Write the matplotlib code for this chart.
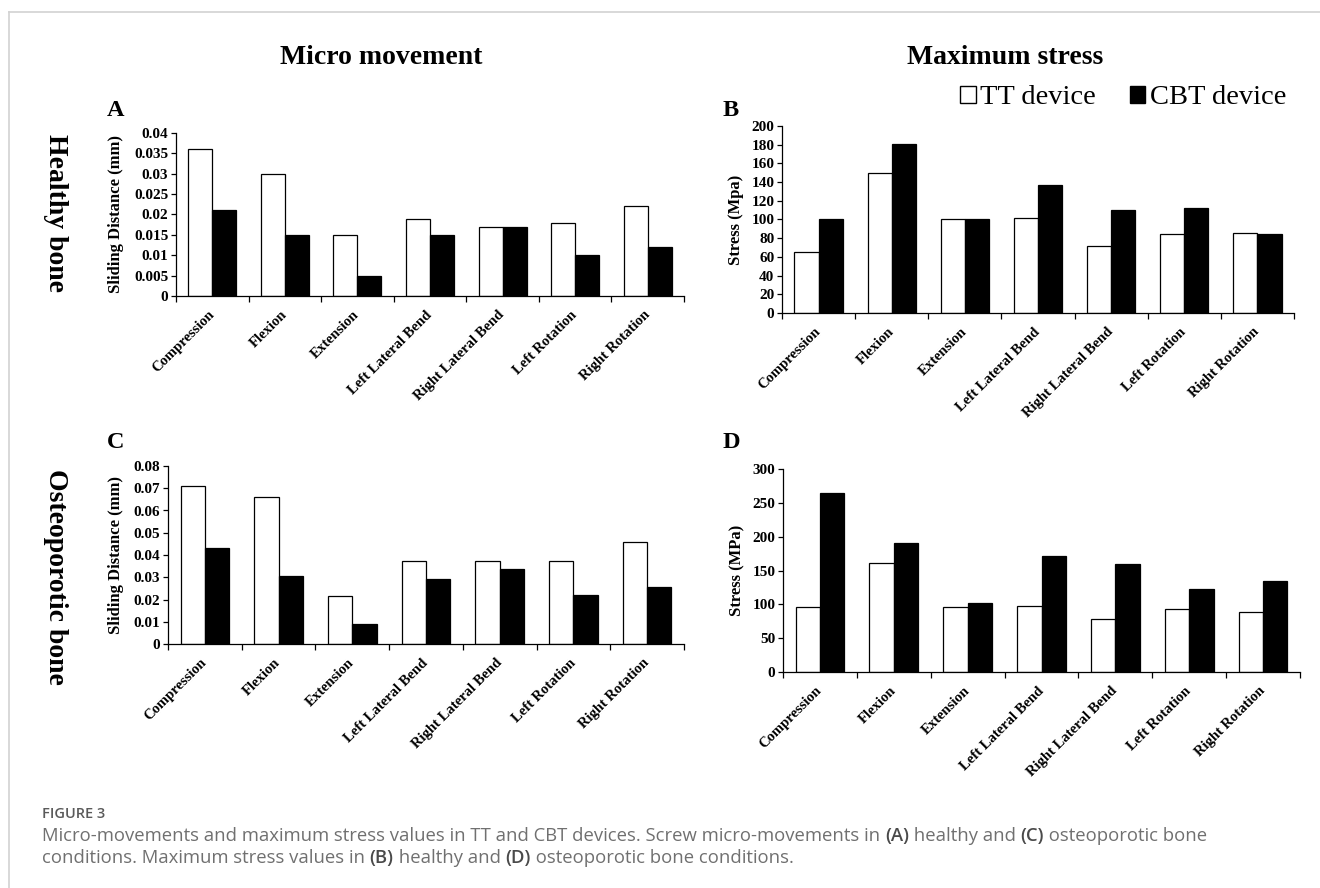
import matplotlib
matplotlib.use("Agg")
import matplotlib.pyplot as plt
from matplotlib.patches import Patch
from matplotlib.lines import Line2D
import numpy as np

# ---------------- data ----------------
categories = ["Compression", "Flexion", "Extension", "Left Lateral Bend",
              "Right Lateral Bend", "Left Rotation", "Right Rotation"]

a_tt  = [0.036, 0.030, 0.015, 0.019, 0.017, 0.018, 0.022]
a_cbt = [0.021, 0.015, 0.005, 0.015, 0.017, 0.010, 0.012]

b_tt  = [65, 150, 100, 102, 72, 84, 86]
b_cbt = [100, 181, 101, 137, 110, 112, 85]

c_tt  = [0.0712, 0.0660, 0.0217, 0.0375, 0.0374, 0.0375, 0.0459]
c_cbt = [0.0430, 0.0306, 0.0091, 0.0294, 0.0335, 0.0221, 0.0254]

d_tt  = [96, 161, 96, 98, 79, 93, 89]
d_cbt = [264, 191, 102, 172, 159, 122, 134]

a_ticks = [0, 0.005, 0.01, 0.015, 0.02, 0.025, 0.03, 0.035, 0.04]
b_ticks = [0, 20, 40, 60, 80, 100, 120, 140, 160, 180, 200]
c_ticks = [0, 0.01, 0.02, 0.03, 0.04, 0.05, 0.06, 0.07, 0.08]
d_ticks = [0, 50, 100, 150, 200, 250, 300]

series_names = ["TT device", "CBT device"]

# ---------------- figure ----------------
W, H = 1320, 888
fig = plt.figure(figsize=(W / 100, H / 100), dpi=100)
SERIF = "Liberation Serif"


def fx(px):
    return px / W


def fy(py):
    return 1 - py / H


def make_axes(l, t, r, b):
    return fig.add_axes([fx(l), fy(b), (r - l) / W, (b - t) / H])


def draw_panel(ax, tt, cbt, ticks, ylabel, ylabel_x):
    x = np.arange(len(categories))
    w = 0.33
    ax.bar(x - w / 2, tt, w, color="white", edgecolor="black", linewidth=0.9)
    ax.bar(x + w / 2, cbt, w, color="black", edgecolor="black", linewidth=0.9)
    ax.set_xlim(-0.5, len(categories) - 0.5)
    ax.set_ylim(ticks[0], ticks[-1])
    ax.set_yticks(ticks)
    ax.set_yticklabels(["%g" % t for t in ticks], fontfamily=SERIF,
                       fontweight="bold", fontsize=11)
    ax.set_xticks(np.arange(len(categories) + 1) - 0.5)
    ax.set_xticklabels([])
    ax.set_xticks(x, minor=True)
    ax.set_xticklabels(categories, minor=True, rotation=45, ha="right",
                       va="center", rotation_mode="anchor",
                       fontfamily=SERIF, fontweight="bold", fontsize=10.5)
    ax.tick_params(axis="x", which="major", direction="out", length=4.5,
                   width=0.9)
    ax.tick_params(axis="x", which="minor", length=0, pad=12)
    ax.tick_params(axis="y", direction="out", length=3.5, width=0.9, pad=2)
    for s in ["top", "right"]:
        ax.spines[s].set_visible(False)
    for s in ["left", "bottom"]:
        ax.spines[s].set_linewidth(0.9)
    pos = ax.get_position()
    fig.text(fx(ylabel_x), pos.y0 + pos.height / 2, ylabel, rotation=90,
             ha="center", va="center", fontfamily=SERIF, fontweight="bold",
             fontsize=12)


axA = make_axes(176, 133, 684, 296)
axB = make_axes(782, 126, 1294, 313)
axC = make_axes(168, 466, 684, 644)
axD = make_axes(783, 469, 1300, 672)

draw_panel(axA, a_tt, a_cbt, a_ticks, "Sliding Distance (mm)", 116)
draw_panel(axB, b_tt, b_cbt, b_ticks, "Stress (Mpa)", 736)
draw_panel(axC, c_tt, c_cbt, c_ticks, "Sliding Distance (mm)", 116)
draw_panel(axD, d_tt, d_cbt, d_ticks, "Stress (MPa)", 737)

# column titles
fig.text(fx(381), fy(58), "Micro movement", ha="center", va="center",
         fontfamily=SERIF, fontweight="bold", fontsize=20)
fig.text(fx(1005), fy(58), "Maximum stress", ha="center", va="center",
         fontfamily=SERIF, fontweight="bold", fontsize=20)

# row titles
fig.text(fx(55), fy(213), "Healthy bone", rotation=-90, ha="center",
         va="center", fontfamily=SERIF, fontweight="bold", fontsize=20)
fig.text(fx(55), fy(577), "Osteoporotic bone", rotation=-90, ha="center",
         va="center", fontfamily=SERIF, fontweight="bold", fontsize=20)

# panel letters
for letter, px, py in [("A", 107, 111), ("B", 723, 111),
                       ("C", 107, 443), ("D", 723, 443)]:
    fig.text(fx(px), fy(py), letter, ha="left", va="center",
             fontfamily=SERIF, fontweight="bold", fontsize=17.5)

# legend
handles = [Patch(facecolor="white", edgecolor="black", linewidth=1.0),
           Patch(facecolor="black", edgecolor="black", linewidth=1.0)]
fig.legend(handles, series_names, ncol=2, frameon=False, loc="center",
           bbox_to_anchor=(fx(1123), fy(98)),
           prop={"family": SERIF, "size": 20.5},
           handlelength=0.55, handleheight=0.55, handletextpad=0.15,
           columnspacing=1.2, borderpad=0, borderaxespad=0)

# page border lines
fig.add_artist(Line2D([fx(9), fx(W)], [fy(12), fy(12)], color="#d2d2d2",
                      linewidth=1.2, transform=fig.transFigure))
fig.add_artist(Line2D([fx(9), fx(9)], [fy(12), fy(H)], color="#d2d2d2",
                      linewidth=1.2, transform=fig.transFigure))

# caption
CAP = "Open Sans"
renderer = fig.canvas.get_renderer()


def rich_line(x_px, y_px, segments, size):
    x = x_px
    for txt, weight, color in segments:
        t = fig.text(fx(x), fy(y_px), txt, fontsize=size, fontweight=weight,
                     color=color, fontfamily=CAP, ha="left", va="center")
        x += t.get_window_extent(renderer).width


fig.text(fx(42), fy(814), "FIGURE 3", fontsize=10.5, fontweight="semibold",
         color="#5a5a5a", fontfamily=CAP, ha="left", va="center")
g = "#707070"
bcol = "#4a4a4a"
rich_line(42, 836, [
    ("Micro-movements and maximum stress values in TT and CBT devices. "
     "Screw micro-movements in ", "normal", g),
    ("(A)", "semibold", bcol),
    (" healthy and ", "normal", g),
    ("(C)", "semibold", bcol),
    (" osteoporotic bone", "normal", g),
], 13.3)
rich_line(42, 858, [
    ("conditions. Maximum stress values in ", "normal", g),
    ("(B)", "semibold", bcol),
    (" healthy and ", "normal", g),
    ("(D)", "semibold", bcol),
    (" osteoporotic bone conditions.", "normal", g),
], 13.3)

fig.savefig("out.png", dpi=100)
